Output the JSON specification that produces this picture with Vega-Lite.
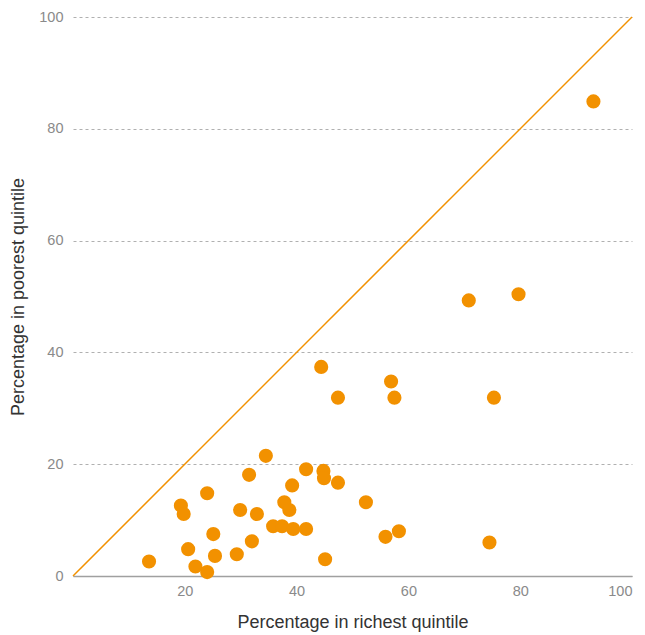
{
  "$schema": "https://vega.github.io/schema/vega-lite/v6.json",
  "width": 559,
  "height": 559,
  "autosize": {"type": "none"},
  "padding": {"left": 73, "top": 17, "right": 13, "bottom": 59},
  "background": "white",
  "config": {
    "view": {"stroke": null},
    "font": "Liberation Sans",
    "axis": {"labelFont": "Liberation Sans", "titleFont": "Liberation Sans", "titleFontWeight": "normal"}
  },
  "layer": [
    {
      "data": {"values": [{"x0": 0, "y0": 0, "x1": 100, "y1": 100}]},
      "mark": {"type": "rule", "color": "#F29100", "strokeWidth": 1.5},
      "encoding": {
        "x": {"field": "x0", "type": "quantitative", "scale": {"domain": [0, 100], "nice": false}},
        "y": {"field": "y0", "type": "quantitative", "scale": {"domain": [0, 100], "nice": false}},
        "x2": {"field": "x1"},
        "y2": {"field": "y1"}
      }
    },
    {
      "data": {"values": [
        {"richest": 13.6, "poorest": 2.6},
        {"richest": 19.3, "poorest": 12.6},
        {"richest": 19.8, "poorest": 11.1},
        {"richest": 20.6, "poorest": 4.8},
        {"richest": 21.9, "poorest": 1.7},
        {"richest": 24.0, "poorest": 0.7},
        {"richest": 24.0, "poorest": 14.8},
        {"richest": 25.1, "poorest": 7.5},
        {"richest": 25.4, "poorest": 3.6},
        {"richest": 29.3, "poorest": 3.9},
        {"richest": 29.9, "poorest": 11.8},
        {"richest": 31.5, "poorest": 18.1},
        {"richest": 32.0, "poorest": 6.2},
        {"richest": 32.9, "poorest": 11.1},
        {"richest": 34.5, "poorest": 21.5},
        {"richest": 35.8, "poorest": 8.9},
        {"richest": 37.4, "poorest": 8.9},
        {"richest": 37.8, "poorest": 13.2},
        {"richest": 38.7, "poorest": 11.8},
        {"richest": 39.2, "poorest": 16.2},
        {"richest": 39.4, "poorest": 8.4},
        {"richest": 41.7, "poorest": 8.4},
        {"richest": 41.7, "poorest": 19.1},
        {"richest": 44.8, "poorest": 18.8},
        {"richest": 44.9, "poorest": 17.5},
        {"richest": 45.1, "poorest": 3.0},
        {"richest": 47.4, "poorest": 16.7},
        {"richest": 52.4, "poorest": 13.2},
        {"richest": 44.4, "poorest": 37.4},
        {"richest": 56.9, "poorest": 34.8},
        {"richest": 47.4, "poorest": 31.9},
        {"richest": 57.5, "poorest": 31.9},
        {"richest": 75.3, "poorest": 31.9},
        {"richest": 55.9, "poorest": 7.0},
        {"richest": 58.3, "poorest": 8.0},
        {"richest": 74.5, "poorest": 6.0},
        {"richest": 70.8, "poorest": 49.3},
        {"richest": 79.7, "poorest": 50.4},
        {"richest": 93.1, "poorest": 84.9}
      ]},
      "mark": {"type": "circle", "size": 200, "color": "#F29100", "opacity": 1},
      "encoding": {
        "x": {
          "field": "richest", "type": "quantitative",
          "scale": {"domain": [0, 100], "nice": false},
          "axis": {
            "title": "Percentage in richest quintile",
            "values": [0, 20, 40, 60, 80, 100],
            "labelExpr": "datum.value == 0 ? '' : datum.label",
            "grid": false, "ticks": false,
            "domainColor": "#A0A0A0", "domainWidth": 1.5,
            "labelColor": "#8A8A8A", "labelFontSize": 14.5, "labelPadding": 8,
            "titleColor": "#333333", "titleFontSize": 18, "titlePadding": 16
          }
        },
        "y": {
          "field": "poorest", "type": "quantitative",
          "scale": {"domain": [0, 100], "nice": false},
          "axis": {
            "title": "Percentage in poorest quintile",
            "values": [0, 20, 40, 60, 80, 100],
            "grid": true, "gridDash": [3, 3], "gridColor": "#B0B0B0", "gridWidth": 1,
            "domain": false, "ticks": false,
            "labelColor": "#8A8A8A", "labelFontSize": 14.5, "labelPadding": 10,
            "titleColor": "#333333", "titleFontSize": 18, "titlePadding": 11
          }
        }
      }
    }
  ]
}
